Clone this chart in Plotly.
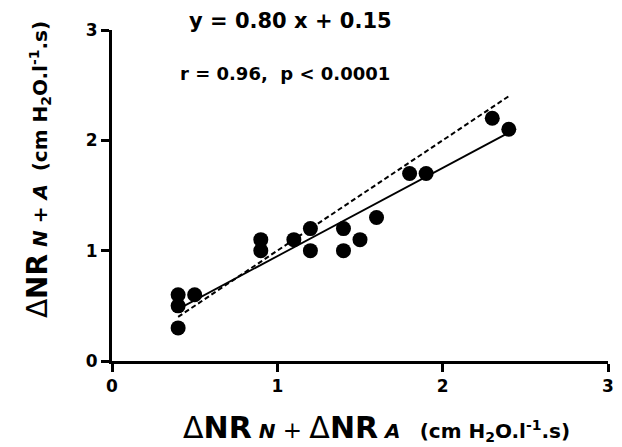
import plotly.graph_objects as go

x_vals = [0.4, 0.4, 0.4, 0.5, 0.9, 0.9, 1.1, 1.2, 1.2, 1.4, 1.4, 1.5, 1.6, 1.8, 1.9, 2.3, 2.4]
y_vals = [0.6, 0.5, 0.3, 0.6, 1.1, 1.0, 1.1, 1.2, 1.0, 1.2, 1.0, 1.1, 1.3, 1.7, 1.7, 2.2, 2.1]
fit_x = [0.4, 2.4]
slope = 0.80
intercept = 0.15
fit_y = [slope * v + intercept for v in fit_x]
identity_x = [0.4, 2.4]
identity_y = [0.4, 2.4]
ticks = [0, 1, 2, 3]

fig = go.Figure()
fig.add_trace(go.Scatter(x=identity_x, y=identity_y, mode="lines",
                         line=dict(color="black", width=2, dash="5px,3px"), showlegend=False))
fig.add_trace(go.Scatter(x=fit_x, y=fit_y, mode="lines",
                         line=dict(color="black", width=1.8), showlegend=False))
fig.add_trace(go.Scatter(x=x_vals, y=y_vals, mode="markers",
                         marker=dict(color="black", size=15), showlegend=False))

font = "DejaVu Sans, sans-serif"
axis_common = dict(range=[0, 3], tickvals=ticks, showline=True, linecolor="black", linewidth=3,
                   ticks="outside", ticklen=8, tickwidth=2.5, tickcolor="black",
                   showgrid=False, zeroline=False, automargin=False,
                   tickfont=dict(family=font, size=17, color="black", weight="bold"))
fig.update_xaxes(**axis_common)
fig.update_yaxes(**axis_common)

x_title = ("<span style='font-size:30px'>Δ<b>NR</b></span><b><i>&nbsp;N</i></b>"
           "<span style='font-size:23px'> + </span>"
           "<span style='font-size:30px'>Δ<b>NR</b></span><b><i>&nbsp;A</i></b>"
           "&nbsp;&nbsp;&nbsp;<b>(cm H<sub>2</sub>O.l<sup>-1</sup>.s)</b>")
y_title = ("<span style='font-size:28px'>Δ<b>NR</b></span><b><i>&nbsp;N + A</i></b>"
           "&nbsp;&nbsp;<b>(cm H<sub>2</sub>O.l<sup>-1</sup>.s)</b>")

# The page body has an 8px margin, so the figure is 8px smaller and the margins shifted.
fig.update_layout(
    width=614, height=439,
    margin=dict(l=104, r=14, t=22, b=86, autoexpand=False),
    plot_bgcolor="white", paper_bgcolor="white",
    font=dict(family=font, color="black"),
    annotations=[
        dict(text="<b>y = 0.80 x + 0.15</b>", x=0.359, y=1.027, xref="paper", yref="paper",
             xanchor="center", yanchor="middle", showarrow=False, font=dict(size=21, family=font)),
        dict(text="<b>r = 0.96,&nbsp;&nbsp;p &lt; 0.0001</b>", x=0.349, y=0.870, xref="paper", yref="paper",
             xanchor="center", yanchor="middle", showarrow=False, font=dict(size=18, family=font)),
        dict(text=x_title, x=0.534, y=-0.2024, xref="paper", yref="paper",
             xanchor="center", yanchor="middle", showarrow=False, font=dict(size=20, family=font)),
        dict(text=y_title, x=-0.151, y=0.577, xref="paper", yref="paper",
             xanchor="center", yanchor="middle", textangle=-90, showarrow=False,
             font=dict(size=20, family=font)),
    ],
)

fig.write_html("out.html")
